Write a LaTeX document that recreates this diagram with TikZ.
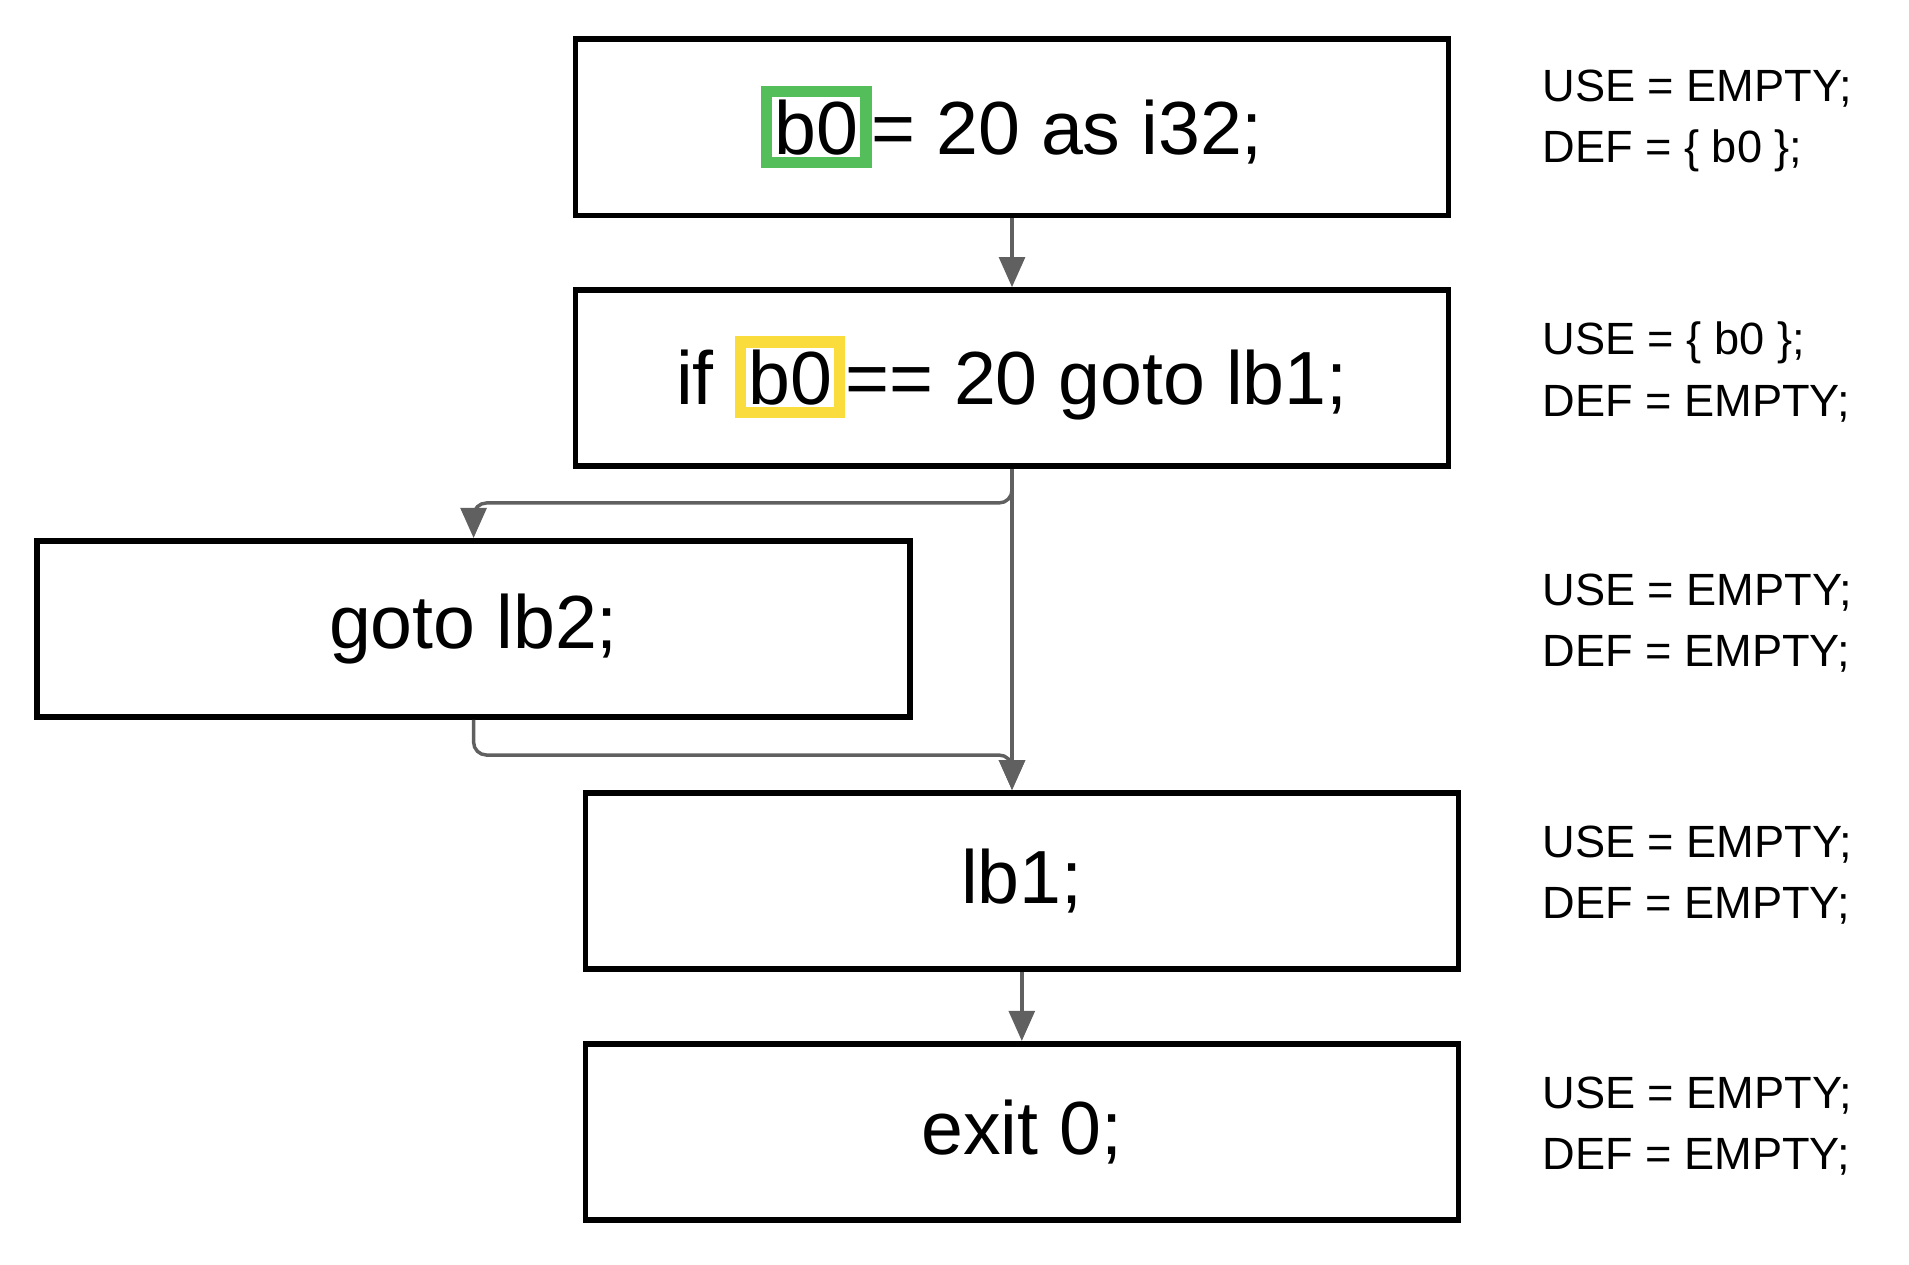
\documentclass[tikz,border=0pt]{standalone}
\usepackage{fontspec}
\setmainfont{Liberation Sans}
\usetikzlibrary{arrows.meta}
\definecolor{gcol}{RGB}{84,190,90}
\definecolor{ycol}{RGB}{250,220,60}
\definecolor{lcol}{RGB}{96,96,96}
\newcommand{\hlbox}[2]{{\setlength{\fboxrule}{2.6pt}\setlength{\fboxsep}{0.5pt}\fcolorbox{#1}{white}{#2}}}
\tikzset{every picture/.style={x=0.01cm,y=-0.01cm}}
\tikzset{block/.style={draw,line width=1.3pt,minimum width=7.13cm,minimum height=1.44cm,font=\fontsize{17.5}{20}\selectfont}}
\tikzset{note/.style={anchor=west,align=left,font=\fontsize{10.5}{14.2}\selectfont}}
\tikzset{edge/.style={lcol,line width=0.8pt,-{Triangle[length=7pt,width=6pt]},rounded corners=3pt}}

\begin{document}
\begin{tikzpicture}
\useasboundingbox (0,0) rectangle (1560,1033);

\node [block] (b1) at (827,104) {\hlbox{gcol}{b0}= 20 as i32;};
\node [block] (b2) at (827,309) {if \hlbox{ycol}{b0}== 20 goto lb1;};
\node [block] (b3) at (387,514) {goto lb2;};
\node [block] (b4) at (835,720) {lb1;};
\node [block] (b5) at (835,925) {exit 0;};

\coordinate (j1) at (827,411);
\coordinate (j2) at (387,617);

\node [note] (n1) at (1248,99) {USE = EMPTY;\\DEF = \{ b0 \};};
\node [note] (n2) at (1248,304) {USE = \{ b0 \};\\DEF = EMPTY;};
\node [note] (n3) at (1248,509) {USE = EMPTY;\\DEF = EMPTY;};
\node [note] (n4) at (1248,715) {USE = EMPTY;\\DEF = EMPTY;};
\node [note] (n5) at (1248,920) {USE = EMPTY;\\DEF = EMPTY;};

\draw [edge] (b1) -- (b2);
\draw [edge] (b2.south) -- (j1) -| (b3.north);
\draw [edge] (b2.south) -- (b2.south |- b4.north);
\draw [edge] (b3.south) -- (j2) -| (b2.south |- b4.north);
\draw [edge] (b4) -- (b5);
\end{tikzpicture}
\end{document}
